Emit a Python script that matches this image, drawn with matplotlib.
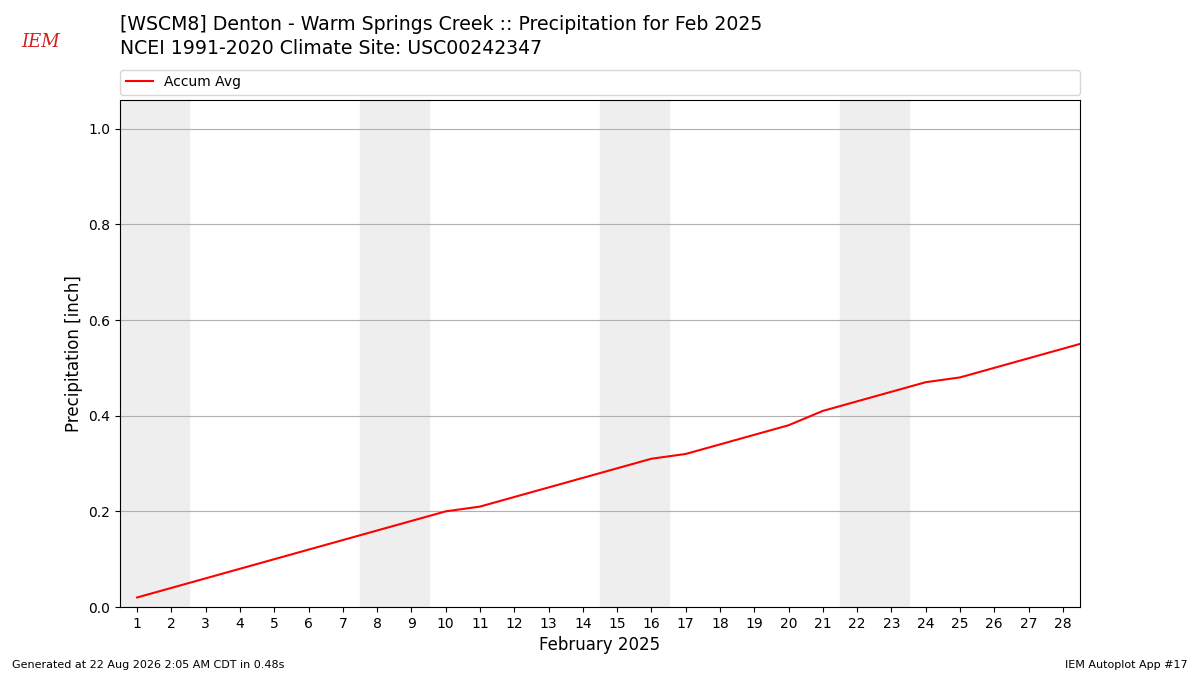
import matplotlib
matplotlib.use("Agg")
import matplotlib.pyplot as plt

# accumulated normal precip, Feb (day 29 = Mar 1 carry-over, clipped)
days = list(range(1, 30))
accum_avg = [0.02, 0.04, 0.06, 0.08, 0.10, 0.12, 0.14, 0.16, 0.18, 0.20,
             0.21, 0.23, 0.25, 0.27, 0.29, 0.31, 0.32, 0.34, 0.36, 0.38,
             0.41, 0.43, 0.45, 0.47, 0.48, 0.50, 0.52, 0.54, 0.56]
weekends = [(1, 2), (8, 9), (15, 16), (22, 23)]
yticks = [0.0, 0.2, 0.4, 0.6, 0.8, 1.0]

fig = plt.figure(figsize=(12, 6.75), dpi=100)
ax = fig.add_axes([0.1, 0.1007, 0.8, 0.7512])

for a, b in weekends:
    ax.axvspan(a - 0.5, b + 0.5, color="#eeeeee", zorder=0)

ax.plot(days, accum_avg, color="r", lw=1.5, label="Accum Avg", zorder=3)

ax.set_xlim(0.5, 28.5)
ax.set_ylim(0, 1.06)
ax.set_xticks(range(1, 29))
ax.set_yticks(yticks)
ax.set_yticklabels([f"{v:.1f}" for v in yticks])
ax.tick_params(labelsize=10)
ax.yaxis.grid(True, color="#b0b0b0", lw=0.8)
ax.set_axisbelow(True)
ax.set_xlabel("February 2025", fontsize=12)
ax.set_ylabel("Precipitation [inch]", fontsize=12)

ax.legend(loc="lower left", bbox_to_anchor=(0, 1.01, 1, 0.05), mode="expand",
          ncol=1, fontsize=10, borderaxespad=0)

fig.text(0.1, 0.955, "[WSCM8] Denton - Warm Springs Creek :: Precipitation for Feb 2025",
         fontsize=13.6, va="baseline")
fig.text(0.1, 0.92, "NCEI 1991-2020 Climate Site: USC00242347",
         fontsize=13.6, va="baseline")

# crude stand-in for the IEM logo
fig.text(0.018, 0.93, "IEM", color="#cc2222", fontsize=13, style="italic",
         family="DejaVu Serif")

fig.text(0.01, 0.01, "Generated at 22 Aug 2026 2:05 AM CDT in 0.48s", fontsize=8)
fig.text(0.99, 0.01, "IEM Autoplot App #17", fontsize=8, ha="right")

fig.savefig("out.png", dpi=100)
